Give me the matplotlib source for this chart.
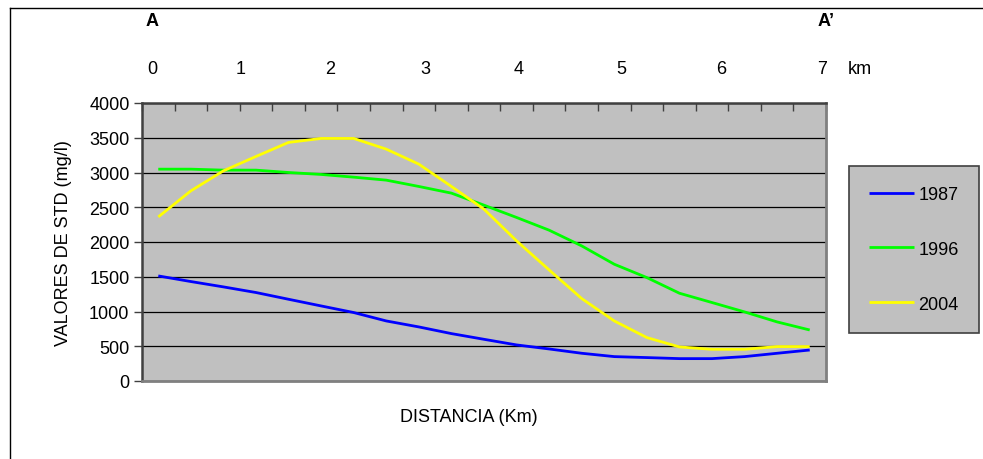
import numpy as np
import matplotlib
matplotlib.use("Agg")
import matplotlib.pyplot as plt
from matplotlib.lines import Line2D

plt.rcParams['font.family'] = ['Liberation Sans', 'DejaVu Sans']

# ---- data ----
series_names = ["1987", "1996", "2004"]
d1987 = [1512, 1431, 1354, 1273, 1176, 1080, 985, 864, 778, 682, 600,
         519, 461, 399, 351, 337, 322, 322, 351, 399, 446]
d1996 = [3048, 3048, 3034, 3034, 3000, 2972, 2933, 2890, 2799, 2703, 2530,
         2353, 2170, 1944, 1680, 1488, 1263, 1129, 994, 850, 734]
d2004 = [2361, 2736, 3024, 3231, 3433, 3490, 3490, 3336, 3120, 2799, 2472,
         2016, 1598, 1186, 864, 625, 490, 456, 456, 495, 495]
y_ticks = [0, 500, 1000, 1500, 2000, 2500, 3000, 3500, 4000]
km_labels = ["0", "1", "2", "3", "4", "5", "6", "7", "km"]
km_px = [152, 241, 330, 425, 519, 621, 721, 822, 860]
colors = ["#0000FF", "#00FF00", "#FFFF00"]

FS = 13
W, H = 983, 460
fig = plt.figure(figsize=(W / 100, H / 100), dpi=100)

def fx(px):
    return px / W

def fy(py):
    return 1 - py / H

left, right, top, bottom = 142, 826, 104, 382
ax = fig.add_axes([fx(left), fy(bottom), fx(right - left), (bottom - top) / H])
ax.set_facecolor("#C0C0C0")

x = np.arange(len(d1987))
for data, name, c in zip([d1987, d1996, d2004], series_names, colors):
    ax.plot(x, data, color=c, lw=2.0, label=name, solid_capstyle='butt', zorder=3)

ax.set_xlim(-0.5, len(x) - 0.5)
ax.set_ylim(0, 4000)
ax.set_yticks(y_ticks)
ax.set_yticklabels([str(v) for v in y_ticks], fontsize=FS)
ax.yaxis.grid(True, color="#000000", lw=0.9, zorder=1)
ax.set_axisbelow(True)

ax.set_xticks(np.arange(-0.5, len(x) + 0.5, 1))
ax.tick_params(axis='x', top=True, bottom=False, labeltop=False, labelbottom=False,
               direction='in', length=6, width=1, color="#404040")
ax.tick_params(axis='y', direction='out', length=6, width=1, pad=3, color="#404040")

for side in ["left", "top"]:
    ax.spines[side].set_color("#404040")
    ax.spines[side].set_linewidth(1.8)
for side in ["right", "bottom"]:
    ax.spines[side].set_color("#808080")
    ax.spines[side].set_linewidth(2.0)

# legend
leg = ax.legend(loc="upper left", bbox_to_anchor=((849 - left) / (right - left), (bottom - 167) / (bottom - top)),
                fontsize=FS, frameon=True, fancybox=False, handlelength=2.5,
                handletextpad=0.25, labelspacing=2.1, borderpad=1.1, borderaxespad=0)
leg.get_frame().set_facecolor("#C0C0C0")
leg.get_frame().set_edgecolor("#404040")
leg.get_frame().set_linewidth(1.2)
leg.get_frame().set_alpha(1)

# axis labels
fig.text(fx(63), fy(243), "VALORES DE STD (mg/l)", rotation=90, ha='center', va='center', fontsize=FS)
fig.text(fx(469), fy(418), "DISTANCIA (Km)", ha='center', va='center', fontsize=FS)

# top annotations
fig.text(fx(152), fy(22), "A", ha='center', va='center', fontsize=FS, fontweight='bold')
fig.text(fx(826), fy(22), "A\u2019", ha='center', va='center', fontsize=FS, fontweight='bold')
for lab, px in zip(km_labels, km_px):
    fig.text(fx(px), fy(70), lab, ha='center', va='center', fontsize=FS)

# outer border (left and top visible)
fig.add_artist(Line2D([fx(10), fx(10)], [fy(9), 0], transform=fig.transFigure, color="#000000", lw=1))
fig.add_artist(Line2D([fx(10), 1], [fy(9), fy(9)], transform=fig.transFigure, color="#000000", lw=1))

fig.savefig("out.png", dpi=100, facecolor="white")
